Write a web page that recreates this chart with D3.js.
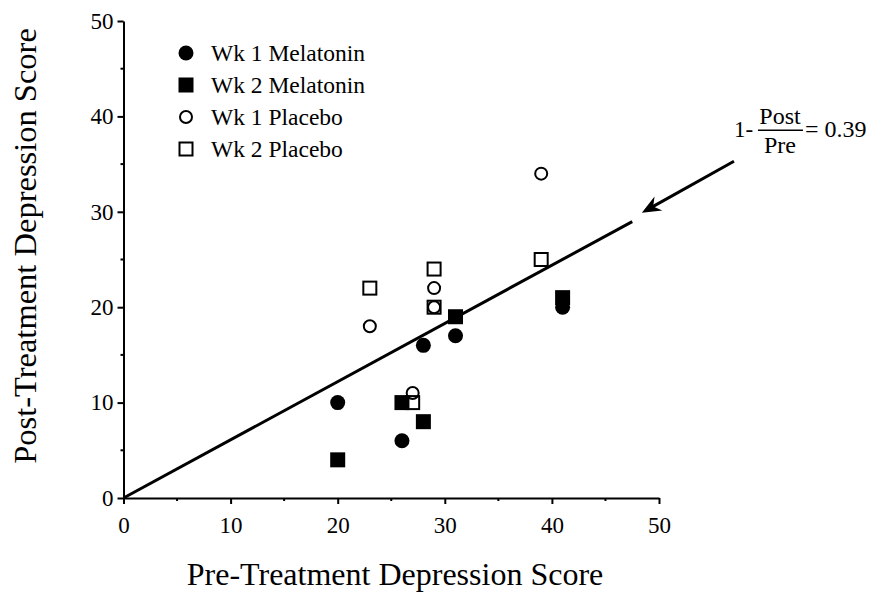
<!DOCTYPE html>
<html>
<head>
<meta charset="utf-8">
<script src="https://cdn.jsdelivr.net/npm/d3@7"></script>
<style>
  html, body { margin: 0; padding: 0; background: #fff; }
  svg { display: block; }
  text { font-family: "Liberation Serif", "Times New Roman", serif; fill: #000; }
</style>
</head>
<body>
<svg id="chart" width="871" height="596"></svg>
<script>
// data (pre score, post score)
const wk1Melatonin = [[20, 10], [26, 6], [28, 16], [31, 17], [41, 20]]
const wk2Melatonin = [[20, 4], [26, 10], [28, 8], [31, 19], [41, 21]]
const wk1Placebo = [[23, 18], [27, 11], [29, 22], [29, 20], [39, 34]]
const wk2Placebo = [[23, 22], [27, 10], [29, 24], [29, 20], [39, 25]]

const seriesNames = ['Wk 1 Melatonin', 'Wk 2 Melatonin', 'Wk 1 Placebo', 'Wk 2 Placebo']
const majorTicks = [0, 10, 20, 30, 40, 50]
const minorTicks = [5, 15, 25, 35, 45]

const ratio = 0.39          // 1 - Post/Pre
const fitEnd = 47.5         // pre score where the fit line stops
const arrowFrom = [57, 35.3]
const arrowTo = [48.4, 29.9]

const svg = d3.select('#chart')

const x = d3.scaleLinear().domain([0, 50]).range([123.5, 659])
const y = d3.scaleLinear().domain([0, 50]).range([498, 21])

// x axis
const xaxis = d3.axisBottom(x).tickValues(majorTicks).tickSize(6).tickSizeOuter(0).tickPadding(13)
const xg = svg.append('g')
  .attr('transform', `translate(0, ${y(0)})`)
  .call(xaxis)
xg.select('.domain').attr('stroke-width', 2)
xg.selectAll('.tick line').attr('stroke-width', 2)
xg.selectAll('.tick text')
  .style('font-size', '23px')
  .style('font-family', '"Liberation Serif", serif')
xg.selectAll('line.minor')
  .data(minorTicks)
  .enter()
  .append('line')
  .classed('minor', true)
  .attr('x1', d => x(d)).attr('x2', d => x(d))
  .attr('y1', 0).attr('y2', 3)
  .attr('stroke', '#000')
  .attr('stroke-width', 2)

// y axis
const yaxis = d3.axisLeft(y).tickValues(majorTicks).tickSize(6).tickSizeOuter(0).tickPadding(4)
const yg = svg.append('g')
  .attr('transform', `translate(${x(0)}, 0)`)
  .call(yaxis)
yg.select('.domain').attr('stroke-width', 2)
yg.selectAll('.tick line').attr('stroke-width', 2)
yg.selectAll('.tick text')
  .style('font-size', '23px')
  .style('font-family', '"Liberation Serif", serif')
yg.selectAll('line.minor')
  .data(minorTicks)
  .enter()
  .append('line')
  .classed('minor', true)
  .attr('y1', d => y(d)).attr('y2', d => y(d))
  .attr('x1', 0).attr('x2', -3)
  .attr('stroke', '#000')
  .attr('stroke-width', 2)

// axis titles
svg.append('text')
  .attr('x', 395)
  .attr('y', 585)
  .attr('text-anchor', 'middle')
  .style('font-size', '32px')
  .text('Pre-Treatment Depression Score')

svg.append('text')
  .attr('transform', 'translate(36, 246) rotate(-90)')
  .attr('text-anchor', 'middle')
  .style('font-size', '32.5px')
  .text('Post-Treatment Depression Score')

// fit line post = (1 - ratio) * pre
const line = d3.line().x(d => x(d[0])).y(d => y(d[1]))
svg.append('path')
  .attr('d', line([[0, 0], [fitEnd, (1 - ratio) * fitEnd]]))
  .attr('fill', 'none')
  .attr('stroke', '#000')
  .attr('stroke-width', 3)

// markers
const markers = {
  'Wk 1 Melatonin': g => g.append('circle').attr('r', 7.5).attr('fill', '#000'),
  'Wk 2 Melatonin': g => g.append('rect').attr('x', -7.5).attr('y', -7.5).attr('width', 15).attr('height', 15).attr('fill', '#000'),
  'Wk 1 Placebo': g => g.append('circle').attr('r', 6).attr('fill', 'none').attr('stroke', '#000').attr('stroke-width', 2),
  'Wk 2 Placebo': g => g.append('rect').attr('x', -6.5).attr('y', -6.5).attr('width', 13).attr('height', 13).attr('fill', 'none').attr('stroke', '#000').attr('stroke-width', 2)
}

const seriesData = [wk1Melatonin, wk2Melatonin, wk1Placebo, wk2Placebo]
seriesData.forEach((data, i) => {
  const name = seriesNames[i]
  svg.append('g').selectAll('g.pt')
    .data(data)
    .enter()
    .append('g')
    .classed('pt', true)
    .attr('transform', d => `translate(${x(d[0])}, ${y(d[1])})`)
    .each(function() { markers[name](d3.select(this)) })
})

// legend
const legend = svg.append('g').attr('transform', 'translate(186, 53)')
const rows = legend.selectAll('g.row')
  .data(seriesNames)
  .enter()
  .append('g')
  .classed('row', true)
  .attr('transform', (d, i) => `translate(0, ${i * 32})`)
rows.each(function(d) {
  const g = d3.select(this)
  markers[d](g)
  g.append('text')
    .attr('x', 25)
    .attr('y', 8)
    .style('font-size', '23.5px')
    .text(d)
})

// arrow + annotation
const ax0 = x(arrowFrom[0]), ay0 = y(arrowFrom[1])
const ax1 = x(arrowTo[0]), ay1 = y(arrowTo[1])
const ang = Math.atan2(ay0 - ay1, ax0 - ax1) * 180 / Math.PI
const len = Math.hypot(ax0 - ax1, ay0 - ay1)
const arrow = svg.append('g').attr('transform', `translate(${ax1}, ${ay1}) rotate(${ang})`)
arrow.append('line')
  .attr('x1', 12).attr('y1', 0).attr('x2', len).attr('y2', 0)
  .attr('stroke', '#000').attr('stroke-width', 3)
arrow.append('path')
  .attr('d', 'M0,0 L19,-8 L13,0 L19,8 Z')
  .attr('fill', '#000')

const note = svg.append('g').attr('transform', `translate(${ax0}, ${ay0})`)
note.append('text').attr('x', 0).attr('y', -24).style('font-size', '23px').text('1-')
note.append('text').attr('x', 46).attr('y', -37).attr('text-anchor', 'middle').style('font-size', '24px').text('Post')
note.append('line').attr('x1', 24).attr('x2', 69).attr('y1', -31).attr('y2', -31).attr('stroke', '#000').attr('stroke-width', 1.5)
note.append('text').attr('x', 46).attr('y', -8).attr('text-anchor', 'middle').style('font-size', '24px').text('Pre')
note.append('text').attr('x', 71).attr('y', -24).style('font-size', '24px').text('= 0.39')
</script>
</body>
</html>
